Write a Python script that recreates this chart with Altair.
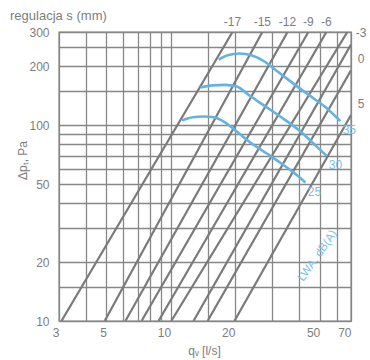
import altair as alt
import pandas as pd

# ---------------- data ----------------
# gray regulation lines (s in mm): end points (q [l/s], dp [Pa])
s_labels = ["-17", "-15", "-12", "-9", "-6", "", "-3", "0", "5"]
line_q_start = [3.08, 4.91, 6.14, 7.31, 8.78, 10.07, 12.8, 14.9, 19.9]
line_dp_start = [10, 10, 10, 10, 10, 10, 10, 10, 10]
line_q_end = [19.5, 26.9, 35.3, 44.2, 53.7, 67.3, 70, 70, 70]
line_dp_end = [300, 300, 300, 300, 300, 300, 259, 191, 113]

# blue sound level curves L_WA dB(A)
curve_names = ["35", "30", "25"]
curve35_q = [16.8, 18.5, 21.0, 23.9, 27.5, 31.6, 38.0, 45.2, 53.1, 62.4]
curve35_dp = [217, 228, 233, 228, 212, 189, 162, 141, 124, 105]
curve30_q = [13.8, 15.7, 17.9, 20.4, 23.4, 27.8, 33.4, 40.1, 47.7, 53.7]
curve30_dp = [156, 160, 161, 158, 142, 125, 109, 94, 79, 70]
curve25_q = [11.3, 12.7, 14.3, 15.9, 17.9, 20.4, 23.9, 28.1, 32.3, 38.0, 42.8]
curve25_dp = [106, 110, 111, 110, 104, 93, 81, 72, 65, 57, 51]

# axes
x_grid = [3, 4, 5, 6, 7, 8, 9, 10, 15, 20, 30, 40, 50, 60, 70]
x_tick_labels = [3, 5, 10, 20, 50, 70]
y_grid = [10, 15, 20, 30, 40, 50, 60, 70, 80, 90, 100, 150, 200, 250, 300]
y_tick_labels = [10, 20, 50, 100, 200, 300]

lwa_label = "LWA, dB(A)"
lwa_pos_q = [48.9]
lwa_pos_dp = [21.5]

# ---------------- build tables ----------------
W, H = 292, 289
gray = "#878787"
line_gray = "#7a7a7a"
text_gray = "#7d7d7d"
blue = "#62b3e3"
blue_text = "#78c0e8"
font = "Liberation Sans"

rows = []
for i in range(len(s_labels)):
    rows.append({"id": i, "q": line_q_start[i], "dp": line_dp_start[i]})
    rows.append({"id": i, "q": line_q_end[i], "dp": line_dp_end[i]})
lines_df = pd.DataFrame(rows)

top_lab = pd.DataFrame([
    {"lab": s_labels[i], "q": line_q_end[i]}
    for i in range(len(s_labels)) if s_labels[i] and line_dp_end[i] == 300
])
right_lab = pd.DataFrame([
    {"lab": s_labels[i], "dp": line_dp_end[i]}
    for i in range(len(s_labels)) if s_labels[i] and line_dp_end[i] != 300
])

crow = []
for name, qs, dps in zip(curve_names, [curve35_q, curve30_q, curve25_q],
                         [curve35_dp, curve30_dp, curve25_dp]):
    for k, (q, d) in enumerate(zip(qs, dps)):
        crow.append({"c": name, "q": q, "dp": d, "k": k})
curves_df = pd.DataFrame(crow)
curve_ends = pd.DataFrame([
    {"c": name, "q": qs[-1], "dp": dps[-1]}
    for name, qs, dps in zip(curve_names, [curve35_q, curve30_q, curve25_q],
                             [curve35_dp, curve30_dp, curve25_dp])
])
lwa_df = pd.DataFrame({"lab": [lwa_label], "q": lwa_pos_q, "dp": lwa_pos_dp})

xs = alt.Scale(type="log", domain=[3, 70], nice=False)
ys = alt.Scale(type="log", domain=[10, 300], nice=False)


def expr(vals):
    return "indexof([" + ",".join(str(v) for v in vals) + "], datum.value) >= 0 ? '' + datum.value : ''"


x_axis = alt.Axis(values=x_grid, labelExpr=expr(x_tick_labels), grid=True,
                  gridColor=gray, gridWidth=1.3, gridOpacity=1, domain=False,
                  ticks=False, labelFont=font, labelFontSize=12,
                  labelColor=text_gray, labelAlign="right", labelPadding=6,
                  labelOverlap=False, labelFlush=False,
                  title="qᵥ [l/s]", titleFont=font, titleFontSize=12,
                  titleFontWeight="normal", titleColor=text_gray,
                  titleX=145, titleY=29, titleAnchor="middle",
                  titleAlign="center", titleBaseline="middle")
y_axis = alt.Axis(values=y_grid, labelExpr=expr(y_tick_labels), grid=True,
                  gridColor=gray, gridWidth=1.3, gridOpacity=1, domain=False,
                  ticks=False, labelFont=font, labelFontSize=12,
                  labelColor=text_gray, labelPadding=10, labelOverlap=False,
                  labelFlush=False, labelBaseline="middle",
                  title="Δpₜ, Pa", titleFont=font, titleFontSize=12,
                  titleFontWeight="normal", titleColor=text_gray,
                  titleX=-37, titleY=128, titleAngle=270,
                  titleAlign="center", titleBaseline="middle")

X = alt.X("q:Q", scale=xs, axis=x_axis)
Y = alt.Y("dp:Q", scale=ys, axis=y_axis)

gray_lines = alt.Chart(lines_df).mark_line(
    color=line_gray, strokeWidth=2.2, clip=True
).encode(x=X, y=Y, detail="id:N")

blue_lines = alt.Chart(curves_df).mark_line(
    color=blue, strokeWidth=2.6, interpolate="monotone", clip=True
).encode(x=X, y=Y, detail="c:N", order="k:Q")

curve_labels = alt.Chart(curve_ends).mark_text(
    color=blue_text, font=font, fontSize=12, dx=9, dy=9, align="center",
    baseline="middle"
).encode(x=X, y=Y, text="c:N")

lwa_text = alt.Chart(lwa_df).mark_text(
    color=blue_text, font=font, fontSize=11.5, angle=305, align="center",
    baseline="middle"
).encode(x=X, y=Y, text="lab:N")

top_text = alt.Chart(top_lab).mark_text(
    color=text_gray, font=font, fontSize=12, align="center", baseline="middle"
).encode(x=X, y=alt.value(-10), text="lab:N")

right_text = alt.Chart(right_lab).mark_text(
    color=text_gray, font=font, fontSize=12, align="center", baseline="middle",
    dy=-11
).encode(x=alt.value(W + 10), y=Y, text="lab:N")

header = alt.Chart(pd.DataFrame({"t": ["regulacja s (mm)"]})).mark_text(
    color=text_gray, font=font, fontSize=13, align="left", baseline="middle"
).encode(x=alt.value(-49), y=alt.value(-16), text="t:N")

chart = alt.layer(
    gray_lines, blue_lines, curve_labels, lwa_text, top_text, right_text, header
).properties(
    width=W, height=H,
    autosize=alt.AutoSizeParams(type="none"),
    padding={"left": 59, "top": 32, "right": 19, "bottom": 39},
    background="white",
).configure_view(
    stroke=gray, strokeWidth=1.4
)

chart.save("out.html", embed_options={"renderer": "svg", "actions": False})
